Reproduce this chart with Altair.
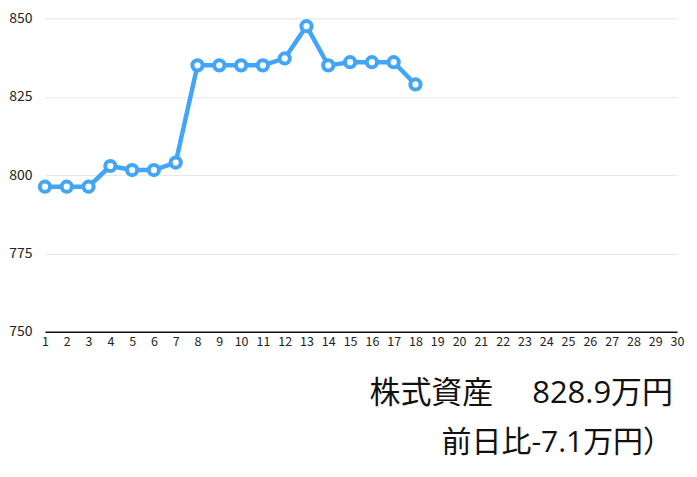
import altair as alt
import pandas as pd

days = list(range(1, 19))
values = [796.3, 796.3, 796.3, 802.9, 801.6, 801.6, 804.0, 835.0, 835.0, 835.0,
          835.0, 837.2, 847.5, 835.0, 836.0, 836.0, 836.0, 828.9]
x_ticks = list(range(1, 31))
y_ticks = [750, 775, 800, 825, 850]
title_line1 = "株式資産　 828.9万円"
title_line2 = "前日比-7.1万円）"

df = pd.DataFrame({"day": days, "value": values})

FONT = "Noto Sans CJK JP"
TFONT = "Open Sans, Noto Sans CJK JP"
BLUE = "#42A5F5"

x = alt.X("day:Q", scale=alt.Scale(domain=[1, 30], nice=False, zero=False),
          axis=alt.Axis(values=x_ticks, title=None, grid=False, ticks=False,
                        labelFontSize=12.5, labelPadding=4, labelColor="#222",
                        domainColor="#111", domainWidth=1.5, labelFont=FONT,
                        labelFlush=False))
y = alt.Y("value:Q", scale=alt.Scale(domain=[750, 850], nice=False, zero=False),
          axis=alt.Axis(values=y_ticks, title=None, domain=False, ticks=False,
                        gridColor="#e6e6e6", gridWidth=1, labelFontSize=14,
                        labelPadding=13, labelColor="#222", labelFont=FONT))

base = alt.Chart(df)
line = base.mark_line(color=BLUE, strokeWidth=4.5).encode(x=x, y=y)
pts = base.mark_point(shape="circle", filled=True, fill="white", stroke=BLUE,
                      strokeWidth=4, size=105, opacity=1).encode(x=x, y=y)

chart = (line + pts).properties(
    width=633, height=314,
    padding={"left": 0, "top": 3, "right": 5, "bottom": 5},
    title=alt.TitleParams(text=title_line1, subtitle=title_line2, orient="bottom",
                          anchor="end", font=TFONT, fontSize=31, fontWeight="normal",
                          subtitleFont=TFONT, subtitleFontSize=30, subtitleColor="#111",
                          color="#111", offset=31, subtitlePadding=18, dx=-11),
).configure_view(stroke=None)

chart.save("out.html", embed_options={"renderer": "svg", "actions": False})
